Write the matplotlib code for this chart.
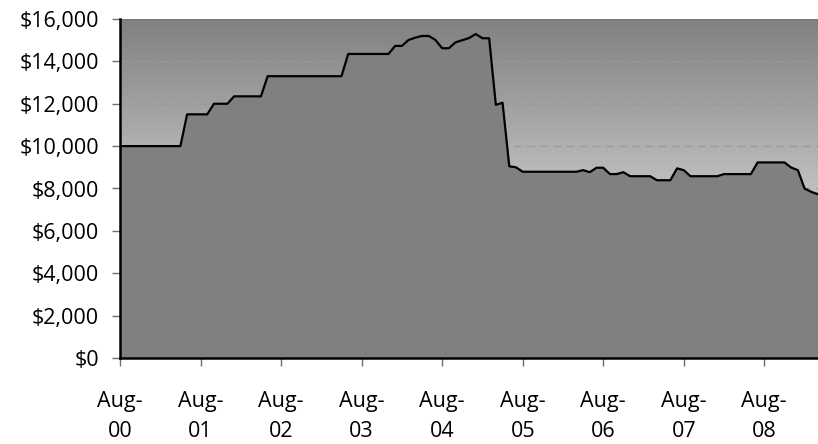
import numpy as np
import matplotlib
matplotlib.use("Agg")
import matplotlib.pyplot as plt
from matplotlib.colors import LinearSegmentedColormap

# Monthly portfolio value, Aug-2000 .. Apr-2009
values = [
    10000, 10000, 10000, 10000, 10000, 10000, 10000, 10000, 10000, 10000,   # 0-9
    11500, 11500, 11500, 11500,                                              # 10-13
    12000, 12000, 12000,                                                     # 14-16
    12350, 12350, 12350, 12350, 12350,                                       # 17-21
    13300, 13300, 13300, 13300, 13300, 13300, 13300, 13300, 13300, 13300,   # 22-31
    13300, 13300,                                                            # 32-33
    14350, 14350, 14350, 14350, 14350, 14350, 14350,                         # 34-40
    14730, 14730,                                                            # 41-42
    15010, 15120, 15200, 15200, 15010,                                       # 43-47
    14620, 14620, 14900, 15000, 15100, 15290, 15090, 15090,                  # 48-55
    11950, 12050, 9050, 9000,                                                # 56-59
    8790, 8790, 8790, 8790, 8790, 8790, 8790, 8790, 8790,                    # 60-68
    8865, 8770, 8980, 8980, 8680, 8680, 8770,                                # 69-75
    8580, 8580, 8580, 8580,                                                  # 76-79
    8390, 8390, 8390,                                                        # 80-82
    8950, 8865,                                                              # 83-84
    8580, 8580, 8580, 8580, 8580,                                            # 85-89
    8680, 8680, 8680, 8680, 8680,                                            # 90-94
    9230, 9230, 9230, 9230, 9230,                                            # 95-99
    8990, 8865, 8000, 7840, 7730,                                            # 100-104
]
tick_positions = [0, 12, 24, 36, 48, 60, 72, 84, 96]
tick_labels = ["Aug-\n00", "Aug-\n01", "Aug-\n02", "Aug-\n03", "Aug-\n04",
               "Aug-\n05", "Aug-\n06", "Aug-\n07", "Aug-\n08"]
y_ticks = [0, 2000, 4000, 6000, 8000, 10000, 12000, 14000, 16000]

months = np.arange(len(values))

plt.rcParams['font.family'] = ['Open Sans', 'DejaVu Sans']

fig = plt.figure(figsize=(8.18, 4.44), dpi=100)
ax = fig.add_axes([120/818, 1-358/444, 1-120/818, (358-19)/444])

# gradient background (dark gray top -> white bottom)
cmap = LinearSegmentedColormap.from_list("bg", ["#ffffff", "#808080"])
grad = np.linspace(0, 1, 256).reshape(-1, 1)
ax.imshow(grad, extent=[0, 1, 0, 1], transform=ax.transAxes, cmap=cmap,
          aspect='auto', origin='lower', zorder=0, interpolation='bilinear')

for yv in y_ticks[1:-1]:
    ax.axhline(yv, color='#9a9a9a', lw=0.9, dashes=(6, 4.5), zorder=0.5)
ax.axhline(y_ticks[-1], color='#787878', lw=1.2, zorder=0.5)

ax.fill_between(months, values, 0, color='#808080', lw=0, zorder=1)
ax.plot(months, values, color='black', lw=1.6, zorder=2, solid_joinstyle='round')

ax.set_xlim(0, len(values) - 1)
ax.set_ylim(0, 16000)
ax.set_yticks(y_ticks)
ax.set_yticklabels([f"${v:,}" for v in y_ticks])
ax.set_xticks(tick_positions)
ax.set_xticklabels(tick_labels, linespacing=1.55)

for s in ['top', 'right']:
    ax.spines[s].set_visible(False)
for s in ['left', 'bottom']:
    ax.spines[s].set_linewidth(1.8)
    ax.spines[s].set_color('black')
    ax.spines[s].set_zorder(3)

ax.tick_params(axis='y', length=6, width=1, color='#707070', pad=9,
               labelsize=15.5, labelcolor='black')
ax.tick_params(axis='x', length=6, width=1, color='#707070', pad=18,
               labelsize=15.5, labelcolor='black')
ax.grid(False)

fig.savefig("out.png", dpi=100)
